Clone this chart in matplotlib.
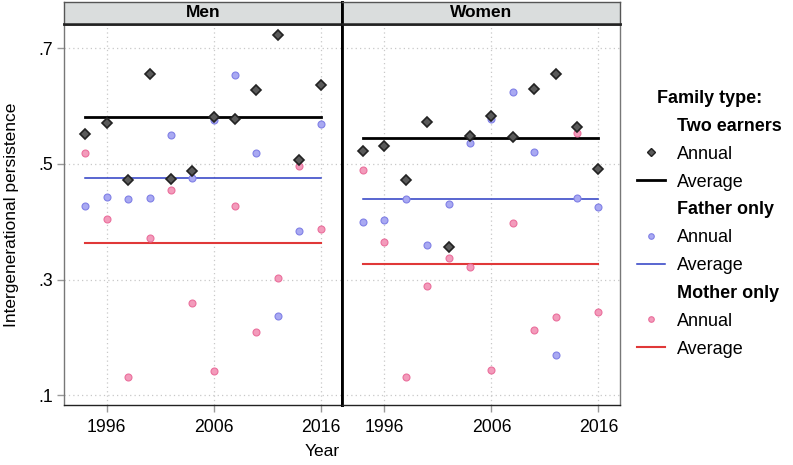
import matplotlib
matplotlib.use("Agg")
import matplotlib.pyplot as plt
from matplotlib.lines import Line2D
import numpy as np

plt.rcParams['font.family'] = ['Liberation Sans', 'DejaVu Sans']

years = [1994, 1996, 1998, 2000, 2002, 2004, 2006, 2008, 2010, 2012, 2014, 2016]
panels = ["Men", "Women"]

men_two = [0.552, 0.570, 0.472, 0.656, 0.474, 0.487, 0.581, 0.578, 0.627, 0.723, 0.506, 0.636]
men_father = [0.428, 0.442, 0.440, 0.441, 0.550, 0.475, 0.576, 0.654, 0.519, 0.237, 0.384, 0.569]
men_mother = [0.519, 0.404, 0.132, 0.371, 0.455, 0.260, 0.142, 0.428, 0.210, 0.302, 0.497, 0.388]
men_avg = [0.581, 0.475, 0.363]

women_two = [0.522, 0.531, 0.472, 0.573, 0.356, 0.548, 0.583, 0.547, 0.630, 0.656, 0.563, 0.492]
women_father = [0.399, 0.403, 0.440, 0.359, 0.431, 0.537, 0.578, 0.624, 0.521, 0.170, 0.441, 0.426]
women_mother = [0.490, 0.365, 0.132, 0.288, 0.337, 0.322, 0.144, 0.397, 0.212, 0.235, 0.554, 0.244]
women_avg = [0.544, 0.439, 0.327]

xticks = [1996, 2006, 2016]
yticks = [0.1, 0.3, 0.5, 0.7]
ytick_labels = [".1", ".3", ".5", ".7"]
family_types = ["Two earners", "Father only", "Mother only"]

data = {
    "Men": (men_two, men_father, men_mother, men_avg),
    "Women": (women_two, women_father, women_mother, women_avg),
}

W, H = 793, 465
fig = plt.figure(figsize=(W / 100, H / 100), dpi=100)

def fx(px):
    return px / W

def fy(px):
    return 1 - px / H

panel_lefts = [64, 341.7]
panel_w = 278.0
top_px, bot_px = 24, 405

c_two_face, c_two_edge = "#5a5a5a", "#222222"
c_fa_face, c_fa_edge = "#a9a9f2", "#8080e6"
c_mo_face, c_mo_edge = "#f39bbb", "#ea6f9c"
c_two_line, c_fa_line, c_mo_line = "#000000", "#2b3cc4", "#e03838"
grid_c = "#c8c8c8"

axes = []
for i, name in enumerate(panels):
    x0 = panel_lefts[i]
    ax = fig.add_axes([fx(x0), fy(bot_px), panel_w / W, (bot_px - top_px) / H])
    axes.append(ax)
    two, fa, mo, avg = data[name]
    ax.set_xlim(1992, 2018)
    ax.set_ylim(0.083, 0.742)
    ax.set_xticks(xticks)
    ax.set_yticks(yticks)
    ax.grid(True, color=grid_c, linestyle=(0, (1, 2.5)), linewidth=0.9)
    ax.set_axisbelow(True)
    # averages
    ax.plot([years[0], years[-1]], [avg[0]] * 2, color=c_two_line, lw=2.0, zorder=2)
    ax.plot([years[0], years[-1]], [avg[1]] * 2, color=c_fa_line, lw=1.1, zorder=2)
    ax.plot([years[0], years[-1]], [avg[2]] * 2, color=c_mo_line, lw=1.5, zorder=2)
    # annual points
    ax.plot(years, mo, 'o', ms=5.0, mfc=c_mo_face, mec=c_mo_edge, mew=0.8, zorder=3)
    ax.plot(years, fa, 'o', ms=5.0, mfc=c_fa_face, mec=c_fa_edge, mew=0.8, zorder=3)
    ax.plot(years, two, 'D', ms=5.5, mfc=c_two_face, mec=c_two_edge, mew=1.2, zorder=4)

    ax.tick_params(axis='both', direction='out', length=5, color="#999999",
                   labelsize=12.7, width=1)
    ax.tick_params(axis='x', pad=5)
    ax.tick_params(axis='y', pad=3)
    for s in ax.spines.values():
        s.set_color("#777777")
        s.set_linewidth(1.0)
    ax.spines['bottom'].set_color("#222222")
    ax.spines['top'].set_color("#222222")
    ax.spines['top'].set_linewidth(1.8)
    if i == 0:
        ax.set_yticklabels(ytick_labels)
        ax.spines['right'].set_color("#000000")
        ax.spines['right'].set_linewidth(2.0)
    else:
        ax.tick_params(axis='y', left=False, labelleft=False)
        ax.spines['left'].set_color("#000000")
        ax.spines['left'].set_linewidth(2.0)

    # strip
    sax = fig.add_axes([fx(x0), fy(top_px), panel_w / W, (top_px - 1.7) / H])
    sax.set_facecolor("#dadddd")
    sax.set_xticks([])
    sax.set_yticks([])
    for s in sax.spines.values():
        s.set_color("#555555")
        s.set_linewidth(1.0)
    sax.spines['bottom'].set_color("#222222")
    sax.spines['bottom'].set_linewidth(1.8)
    if i == 0:
        sax.spines['right'].set_color("#000000")
        sax.spines['right'].set_linewidth(2.0)
    else:
        sax.spines['left'].set_color("#000000")
        sax.spines['left'].set_linewidth(2.0)
    sax.text(0.5, 0.5, name, ha='center', va='center', fontsize=12.5,
             fontweight='bold', transform=sax.transAxes)

fig.text(fx(12), fy(215), "Intergenerational persistence", rotation=90,
         ha='center', va='center', fontsize=12.5)
fig.text(fx(322), fy(451), "Year", ha='center', va='center', fontsize=12.5)

# legend
blank = Line2D([], [], linestyle='none', marker=None)
handles = []
labels = []
styles = [
    (c_two_face, c_two_edge, 'D', 4.5, 1.0, c_two_line, 2.0),
    (c_fa_face, c_fa_edge, 'o', 4.0, 0.8, c_fa_line, 1.1),
    (c_mo_face, c_mo_edge, 'o', 4.0, 0.8, c_mo_line, 1.5),
]
for ft, (fc, ec, mk, ms, mew, lc, lw) in zip(family_types, styles):
    handles.append(blank)
    labels.append(ft)
    handles.append(Line2D([], [], linestyle='none', marker=mk, ms=ms, mfc=fc, mec=ec, mew=mew))
    labels.append("Annual")
    handles.append(Line2D([], [], color=lc, lw=lw))
    labels.append("Average")

leg = fig.legend(handles, labels, loc='upper left', bbox_to_anchor=(fx(637), fy(90)),
                 frameon=False, fontsize=13, title="Family type:",
                 title_fontproperties={'weight': 'bold', 'size': 13},
                 handlelength=1.55, handletextpad=0.65, labelspacing=0.6,
                 borderaxespad=0, borderpad=0)
for t in leg.get_texts():
    if t.get_text() in family_types:
        t.set_fontweight('bold')

fig.savefig("out.png", dpi=100)
